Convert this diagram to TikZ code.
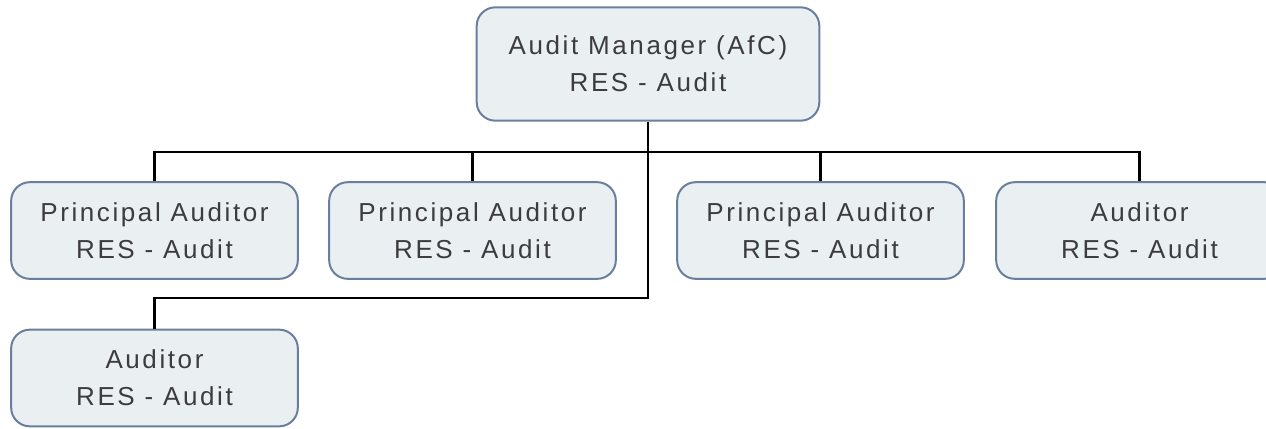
\documentclass[tikz,border=0pt]{standalone}
\usepackage{fontspec}
\setmainfont{Liberation Sans}[LetterSpace=10]
\usetikzlibrary{positioning}
\definecolor{boxfill}{HTML}{EAEFF2}
\definecolor{boxline}{HTML}{6A7F9E}
\definecolor{boxtext}{HTML}{3C3C3C}

\begin{document}
\begin{tikzpicture}[x=0.75pt,y=-0.75pt,
  unit/.style={rectangle,draw=boxline,fill=boxfill,line width=1.5pt,rounded corners=14pt, minimum width=215pt,minimum height=72.5pt,align=center,text=boxtext, font=\fontsize{19.5}{27.75}\selectfont},
  head/.style={unit,minimum width=257pt,minimum height=85pt},
  link/.style={line width=1.8pt,black}
]
  \clip (0,0) rectangle (1266,428);
  \node[head](mgr) at (648,64)   {Audit Manager (AfC)\\RES - Audit};
  \node[unit](pa1) at (154.5,230.5){Principal Auditor\\RES - Audit};
  \node[unit](pa2) at (472.5,230.5){Principal Auditor\\RES - Audit};
  \node[unit](pa3) at (820.5,230.5){Principal Auditor\\RES - Audit};
  \node[unit](au1) at (1139.5,230.5){Auditor\\RES - Audit};
  \node[unit](au2) at (154.5,378){Auditor\\RES - Audit};

  \coordinate (bus) at (648,152);
  \coordinate (elbow) at (648,298);

  \draw[link](mgr.south)--(elbow)-|(au2.north);
  \draw[link](pa1.north)|-(bus)-|(au1.north);
  \draw[link](pa2.north)--(pa2.north|-bus);
  \draw[link](pa3.north)--(pa3.north|-bus);
\end{tikzpicture}
\end{document}
